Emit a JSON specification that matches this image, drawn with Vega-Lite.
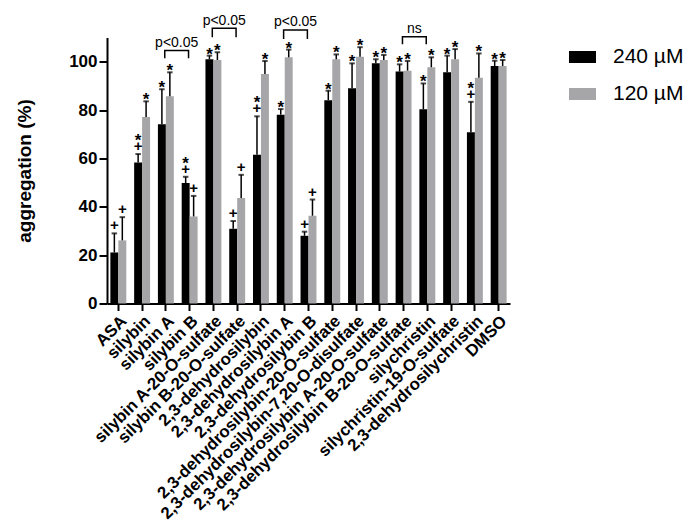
{
  "$schema": "https://vega.github.io/schema/vega-lite/v6.json",
  "width": 403,
  "height": 266,
  "autosize": {"type": "none"},
  "padding": {"left": 107, "top": 37.5, "right": 186, "bottom": 225.5},
  "config": {
    "font": "Liberation Sans",
    "view": {"stroke": null},
    "axis": {"domainColor": "#000", "domainWidth": 2, "tickColor": "#000", "tickWidth": 2, "labelColor": "#000", "titleColor": "#000", "grid": false}
  },
  "datasets": {
    "bars": [
      {"cat": "ASA", "series": "240 µM", "value": 21.1, "err": 29.0, "sig": "+"},
      {"cat": "ASA", "series": "120 µM", "value": 26.1, "err": 35.7, "sig": "+"},
      {"cat": "silybin", "series": "240 µM", "value": 58.3, "err": 61.8, "sig": "*+"},
      {"cat": "silybin", "series": "120 µM", "value": 77.1, "err": 83.6, "sig": "*"},
      {"cat": "silybin A", "series": "240 µM", "value": 74.1, "err": 88.6, "sig": "*"},
      {"cat": "silybin A", "series": "120 µM", "value": 85.7, "err": 95.6, "sig": "*"},
      {"cat": "silybin B", "series": "240 µM", "value": 49.8, "err": 52.4, "sig": "*+"},
      {"cat": "silybin B", "series": "120 µM", "value": 36.0, "err": 44.5, "sig": "+"},
      {"cat": "silybin A-20-O-sulfate", "series": "240 µM", "value": 101.0, "err": 102.5, "sig": "*"},
      {"cat": "silybin A-20-O-sulfate", "series": "120 µM", "value": 100.7, "err": 103.9, "sig": "*"},
      {"cat": "silybin B-20-O-sulfate", "series": "240 µM", "value": 30.9, "err": 34.1, "sig": "+"},
      {"cat": "silybin B-20-O-sulfate", "series": "120 µM", "value": 43.6, "err": 53.2, "sig": "+"},
      {"cat": "2,3-dehydrosilybin", "series": "240 µM", "value": 61.5, "err": 77.4, "sig": "*+"},
      {"cat": "2,3-dehydrosilybin", "series": "120 µM", "value": 94.9, "err": 100.3, "sig": "*"},
      {"cat": "2,3-dehydrosilybin A", "series": "240 µM", "value": 78.1, "err": 80.4, "sig": "*"},
      {"cat": "2,3-dehydrosilybin A", "series": "120 µM", "value": 101.8, "err": 105.0, "sig": "*"},
      {"cat": "2,3-dehydrosilybin B", "series": "240 µM", "value": 28.0, "err": 29.7, "sig": "+"},
      {"cat": "2,3-dehydrosilybin B", "series": "120 µM", "value": 36.3, "err": 43.0, "sig": "+"},
      {"cat": "2,3-dehydrosilybin-20-O-sulfate", "series": "240 µM", "value": 84.1, "err": 88.0, "sig": "*"},
      {"cat": "2,3-dehydrosilybin-20-O-sulfate", "series": "120 µM", "value": 101.0, "err": 103.0, "sig": "*"},
      {"cat": "2,3-dehydrosilybin-7,20-O-disulfate", "series": "240 µM", "value": 89.0, "err": 99.3, "sig": "*"},
      {"cat": "2,3-dehydrosilybin-7,20-O-disulfate", "series": "120 µM", "value": 102.0, "err": 106.0, "sig": "*"},
      {"cat": "2,3-dehydrosilybin A-20-O-sulfate", "series": "240 µM", "value": 99.3, "err": 101.0, "sig": "*"},
      {"cat": "2,3-dehydrosilybin A-20-O-sulfate", "series": "120 µM", "value": 100.7, "err": 102.8, "sig": "*"},
      {"cat": "2,3-dehydrosilybin B-20-O-sulfate", "series": "240 µM", "value": 95.9, "err": 98.9, "sig": "*"},
      {"cat": "2,3-dehydrosilybin B-20-O-sulfate", "series": "120 µM", "value": 96.3, "err": 100.3, "sig": "*"},
      {"cat": "silychristin", "series": "240 µM", "value": 80.3, "err": 91.0, "sig": "*"},
      {"cat": "silychristin", "series": "120 µM", "value": 97.7, "err": 101.8, "sig": "*"},
      {"cat": "silychristin-19-O-sulfate", "series": "240 µM", "value": 95.6, "err": 102.5, "sig": "*"},
      {"cat": "silychristin-19-O-sulfate", "series": "120 µM", "value": 101.0, "err": 105.2, "sig": "*"},
      {"cat": "2,3-dehydrosilychristin", "series": "240 µM", "value": 70.8, "err": 83.4, "sig": "*+"},
      {"cat": "2,3-dehydrosilychristin", "series": "120 µM", "value": 93.4, "err": 103.4, "sig": "*"},
      {"cat": "DMSO", "series": "240 µM", "value": 98.2, "err": 100.4, "sig": "*"},
      {"cat": "DMSO", "series": "120 µM", "value": 98.2, "err": 100.7, "sig": "*"}
    ],
    "brackets": [
      {"br": 1, "o": 1, "cat": "silybin A", "y": 101.4},
      {"br": 1, "o": 2, "cat": "silybin A", "y": 104.6},
      {"br": 1, "o": 3, "cat": "silybin B", "y": 104.6},
      {"br": 1, "o": 4, "cat": "silybin B", "y": 101.4},
      {"br": 2, "o": 1, "cat": "silybin A-20-O-sulfate", "y": 110.1},
      {"br": 2, "o": 2, "cat": "silybin A-20-O-sulfate", "y": 113.8},
      {"br": 2, "o": 3, "cat": "silybin B-20-O-sulfate", "y": 113.8},
      {"br": 2, "o": 4, "cat": "silybin B-20-O-sulfate", "y": 110.1},
      {"br": 3, "o": 1, "cat": "2,3-dehydrosilybin A", "y": 109.4},
      {"br": 3, "o": 2, "cat": "2,3-dehydrosilybin A", "y": 113.1},
      {"br": 3, "o": 3, "cat": "2,3-dehydrosilybin B", "y": 113.1},
      {"br": 3, "o": 4, "cat": "2,3-dehydrosilybin B", "y": 109.4},
      {"br": 4, "o": 1, "cat": "2,3-dehydrosilybin B-20-O-sulfate", "y": 107.2},
      {"br": 4, "o": 2, "cat": "2,3-dehydrosilybin B-20-O-sulfate", "y": 110.3},
      {"br": 4, "o": 3, "cat": "silychristin", "y": 110.3},
      {"br": 4, "o": 4, "cat": "silychristin", "y": 107.2}
    ],
    "bracketText": [
      {"cat": "silybin A", "y": 107.6, "label": "p<0.05"},
      {"cat": "silybin A-20-O-sulfate", "y": 116.8, "label": "p<0.05"},
      {"cat": "2,3-dehydrosilybin A", "y": 116.3, "label": "p<0.05"},
      {"cat": "2,3-dehydrosilybin B-20-O-sulfate", "y": 113.6, "label": "ns"}
    ]
  },
  "layer": [
    {
      "data": {"name": "bars"},
      "mark": {"type": "bar"},
      "encoding": {
        "x": {
          "field": "cat", "type": "nominal", "sort": null, "title": null,
          "scale": {"domain": ["ASA", "silybin", "silybin A", "silybin B", "silybin A-20-O-sulfate", "silybin B-20-O-sulfate", "2,3-dehydrosilybin", "2,3-dehydrosilybin A", "2,3-dehydrosilybin B", "2,3-dehydrosilybin-20-O-sulfate", "2,3-dehydrosilybin-7,20-O-disulfate", "2,3-dehydrosilybin A-20-O-sulfate", "2,3-dehydrosilybin B-20-O-sulfate", "silychristin", "silychristin-19-O-sulfate", "2,3-dehydrosilychristin", "DMSO"], "paddingInner": 0.33, "paddingOuter": 0.142},
          "axis": {"labelAngle": -45, "labelFontSize": 16.8, "labelFontWeight": "bold", "tickSize": 7, "labelPadding": 2, "labelLimit": 500, "labelOverlap": false}
        },
        "xOffset": {"field": "series", "type": "nominal", "scale": {"domain": ["240 µM", "120 µM"], "paddingInner": 0, "paddingOuter": 0}},
        "y": {
          "field": "value", "type": "quantitative",
          "scale": {"domain": [0, 110], "nice": false},
          "axis": {"values": [0, 20, 40, 60, 80, 100], "title": "aggregation (%)", "titleFontSize": 19, "titleFontWeight": "bold", "labelFontSize": 17, "labelFontWeight": "bold", "tickSize": 8, "labelPadding": 2, "titlePadding": 34}
        },
        "color": {
          "field": "series", "type": "nominal",
          "scale": {"domain": ["240 µM", "120 µM"], "range": ["#000000", "#a6a6a9"]},
          "legend": {"orient": "none", "legendX": 462, "legendY": 6, "title": null, "symbolType": "M-1,-0.444H1V0.444H-1Z", "symbolSize": 729, "symbolStrokeWidth": 0, "labelFontSize": 21, "labelColor": "#000", "labelOffset": 17, "rowPadding": 13, "padding": 0}
        }
      }
    },
    {
      "data": {"name": "bars"},
      "mark": {"type": "rule", "color": "#000", "strokeWidth": 1.5},
      "encoding": {
        "x": {"field": "cat", "type": "nominal", "sort": null},
        "xOffset": {"field": "series", "type": "nominal"},
        "y": {"field": "value", "type": "quantitative"},
        "y2": {"field": "err"}
      }
    },
    {
      "data": {"name": "bars"},
      "mark": {"type": "tick", "color": "#000", "size": 5.5, "thickness": 2, "orient": "horizontal"},
      "encoding": {
        "x": {"field": "cat", "type": "nominal", "sort": null},
        "xOffset": {"field": "series", "type": "nominal"},
        "y": {"field": "err", "type": "quantitative"}
      }
    },
    {
      "data": {"name": "bars"},
      "transform": [{"filter": "indexof(datum.sig, '+') >= 0"}],
      "mark": {"type": "text", "text": "+", "fontSize": 15, "fontWeight": "bold", "color": "#000", "dy": -3, "baseline": "alphabetic"},
      "encoding": {
        "x": {"field": "cat", "type": "nominal", "sort": null},
        "xOffset": {"field": "series", "type": "nominal"},
        "y": {"field": "err", "type": "quantitative"}
      }
    },
    {
      "data": {"name": "bars"},
      "transform": [{"filter": "datum.sig == '*'"}],
      "mark": {"type": "text", "text": "*", "fontSize": 17, "fontWeight": "bold", "color": "#000", "dy": 4, "baseline": "alphabetic"},
      "encoding": {
        "x": {"field": "cat", "type": "nominal", "sort": null},
        "xOffset": {"field": "series", "type": "nominal"},
        "y": {"field": "err", "type": "quantitative"}
      }
    },
    {
      "data": {"name": "bars"},
      "transform": [{"filter": "datum.sig == '*+'"}],
      "mark": {"type": "text", "text": "*", "fontSize": 17, "fontWeight": "bold", "color": "#000", "dy": -8, "baseline": "alphabetic"},
      "encoding": {
        "x": {"field": "cat", "type": "nominal", "sort": null},
        "xOffset": {"field": "series", "type": "nominal"},
        "y": {"field": "err", "type": "quantitative"}
      }
    },
    {
      "data": {"name": "brackets"},
      "mark": {"type": "line", "color": "#000", "strokeWidth": 1.5, "interpolate": "linear"},
      "encoding": {
        "x": {"field": "cat", "type": "nominal", "sort": null, "bandPosition": 0.43},
        "y": {"field": "y", "type": "quantitative"},
        "detail": {"field": "br", "type": "nominal"},
        "order": {"field": "o", "type": "quantitative"}
      }
    },
    {
      "data": {"name": "bracketText"},
      "mark": {"type": "text", "fontSize": 14, "color": "#000", "baseline": "middle", "align": "center"},
      "encoding": {
        "x": {"field": "cat", "type": "nominal", "sort": null, "bandPosition": 1.18},
        "y": {"field": "y", "type": "quantitative"},
        "text": {"field": "label"}
      }
    }
  ]
}
